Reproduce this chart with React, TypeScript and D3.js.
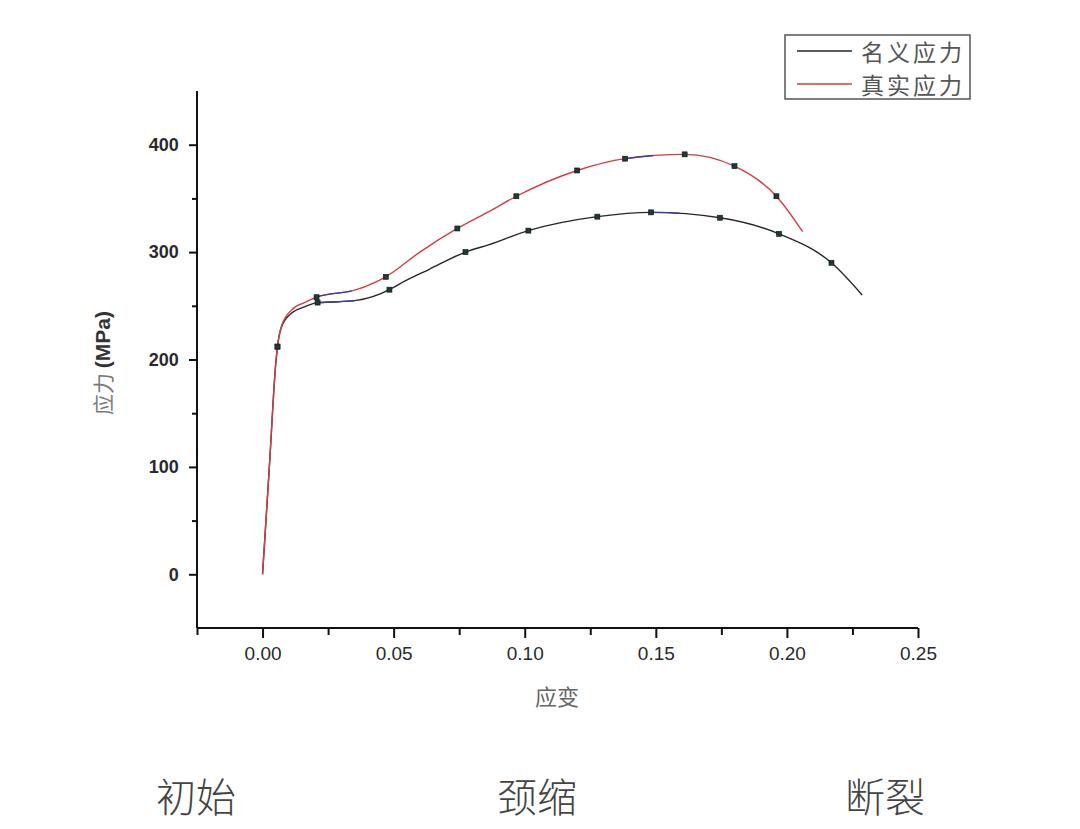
import * as d3 from "d3";
import { useEffect, useRef } from "react";

// nominal stress curve (名义应力)
const nominalStrain = [0, 0.0026, 0.005, 0.0057, 0.0072, 0.011, 0.016, 0.021, 0.0267, 0.0358, 0.0484, 0.052, 0.0636, 0.0774, 0.0865, 0.1014, 0.1277, 0.1482, 0.1745, 0.197, 0.217, 0.2287];
const nominalStress = [0, 100, 195, 212, 230, 243, 249, 253, 253.5, 255, 265, 270, 284, 300, 307, 320, 333, 337, 332, 317, 290, 260];
const nominalMarkIdx = [3, 7, 10, 13, 15, 16, 17, 18, 19, 20];
const nominalBlue = [[0.021, 0.036], [0.149, 0.159]];

// true stress curve (真实应力)
const trueStrain = [0, 0.0026, 0.005, 0.0057, 0.0072, 0.011, 0.016, 0.0206, 0.0358, 0.047, 0.06, 0.0743, 0.0865, 0.0968, 0.12, 0.1383, 0.161, 0.18, 0.196, 0.206];
const trueStress = [0, 100, 195, 212, 231, 246, 253, 258, 265, 277, 300, 322, 338, 352, 376, 387, 391, 380, 352, 319];
const trueMarkIdx = [3, 7, 9, 11, 13, 14, 15, 16, 17, 18];
const trueBlue = [[0.0206, 0.034], [0.139, 0.149]];

const xMajor = [0, 0.05, 0.1, 0.15, 0.2, 0.25];
const xMinor = [-0.025, 0.025, 0.075, 0.125, 0.175, 0.225];
const yMajor = [0, 100, 200, 300, 400];
const yMinor = [50, 150, 250, 350];

const legendLabels = ["名义应力", "真实应力"];
const stageLabels = ["初始", "颈缩", "断裂"];

const W = 1080;
const H = 829;
const cjk = "'Noto Sans CJK SC', sans-serif";
const latin = "Arial, 'Liberation Sans', sans-serif";

export default function App() {
  const svgRef = useRef<SVGSVGElement>(null);

  useEffect(() => {
    const svg = d3.select(svgRef.current);
    svg.selectAll("*").remove();

    const x = d3.scaleLinear().domain([-0.025, 0.25]).range([197, 918]);
    const y = d3.scaleLinear().domain([-50, 450]).range([628, 91]);

    // axes
    const gx = svg.append("g").attr("transform", `translate(0,${y(-50)})`);
    gx.call(d3.axisBottom(x).tickValues(xMajor).tickSize(10).tickSizeOuter(0).tickFormat(d3.format(".2f")));
    gx.append("g").call(d3.axisBottom(x).tickValues(xMinor).tickSize(7).tickFormat(() => "")).select(".domain").remove();
    gx.selectAll("text").attr("font-size", 19).attr("font-family", latin).attr("fill", "#2a2a2a").attr("dy", "1.0em");

    const gy = svg.append("g").attr("transform", `translate(${x(-0.025)},0)`);
    gy.call(d3.axisLeft(y).tickValues(yMajor).tickSize(8).tickSizeOuter(0).tickFormat(d3.format("d")));
    gy.append("g").call(d3.axisLeft(y).tickValues(yMinor).tickSize(5).tickFormat(() => "")).select(".domain").remove();
    gy.selectAll("text").attr("font-size", 18).attr("font-family", latin).attr("font-weight", "bold").attr("fill", "#2a2a2a").attr("dx", "-0.4em");

    svg.selectAll(".domain").attr("stroke", "#111").attr("stroke-width", 2);
    svg.selectAll(".tick line").attr("stroke", "#111").attr("stroke-width", 2);
    gx.select(".domain").attr("d", `M${x(-0.025)},0H${x(0.25)}`);
    gy.select(".domain").attr("d", `M0,${y(-50)}V${y(450)}`);

    // axis titles
    const yl = svg.append("text")
      .attr("transform", `translate(102,363) rotate(-90)`)
      .attr("text-anchor", "middle")
      .attr("dominant-baseline", "central")
      .attr("font-size", 21);
    yl.append("tspan").attr("font-family", cjk).attr("fill", "#7a7a7a").text("应力 ");
    yl.append("tspan").attr("font-family", latin).attr("font-weight", "bold").attr("fill", "#333").text("(MPa)");

    svg.append("text")
      .attr("x", 557).attr("y", 695)
      .attr("text-anchor", "middle").attr("dominant-baseline", "central")
      .attr("font-family", cjk).attr("font-size", 22).attr("fill", "#666")
      .text("应变");

    const series = [
      { strain: nominalStrain, stress: nominalStress, color: "#262626", marks: nominalMarkIdx, blue: nominalBlue },
      { strain: trueStrain, stress: trueStress, color: "#d23c46", marks: trueMarkIdx, blue: trueBlue },
    ];

    const defs = svg.append("defs");
    series.forEach((s, si) => {
      const pts: [number, number][] = s.strain.map((v, i) => [x(v), y(s.stress[i])]);
      const path = d3.line().curve(d3.curveMonotoneX)(pts)!;
      svg.append("path").attr("d", path).attr("fill", "none").attr("stroke", s.color).attr("stroke-width", 1.4);
      // short bluish stretches seen on the original traces
      s.blue.forEach((r, bi) => {
        const id = `clip-${si}-${bi}`;
        defs.append("clipPath").attr("id", id).append("rect")
          .attr("x", x(r[0])).attr("y", 0).attr("width", x(r[1]) - x(r[0])).attr("height", H);
        svg.append("path").attr("d", path).attr("fill", "none").attr("stroke", "#3a3aa8")
          .attr("stroke-width", 1.4).attr("clip-path", `url(#${id})`);
      });
    });

    // markers
    series.forEach((s) => {
      svg.append("g").selectAll("rect").data(s.marks).join("rect")
        .attr("x", (i) => x(s.strain[i]) - 2.5)
        .attr("y", (i) => y(s.stress[i]) - 2.5)
        .attr("width", 5).attr("height", 5)
        .attr("fill", "#1f3a36").attr("stroke", "#111").attr("stroke-width", 0.6);
    });

    // legend
    const lg = svg.append("g");
    lg.append("rect").attr("x", 785).attr("y", 35).attr("width", 185).attr("height", 64)
      .attr("fill", "#fff").attr("stroke", "#555").attr("stroke-width", 1.5);
    legendLabels.forEach((lab, i) => {
      const cy = 51 + i * 33;
      lg.append("line").attr("x1", 797).attr("x2", 852).attr("y1", cy).attr("y2", cy)
        .attr("stroke", series[i].color).attr("stroke-width", 1.5);
      lg.append("text").attr("x", 861).attr("y", cy).attr("dominant-baseline", "central")
        .attr("font-family", cjk).attr("font-size", 23).attr("letter-spacing", 3)
        .attr("fill", "#555").text(lab);
    });

    // stage labels under the chart
    const stageX = [196, 537, 885];
    stageLabels.forEach((lab, i) => {
      svg.append("text").attr("x", stageX[i]).attr("y", 795)
        .attr("text-anchor", "middle").attr("dominant-baseline", "central")
        .attr("font-family", cjk).attr("font-size", 40).attr("font-weight", 300)
        .attr("fill", "#444").text(lab);
    });
  }, []);

  return (
    <svg
      ref={svgRef}
      width={W}
      height={H}
      viewBox={`0 0 ${W} ${H}`}
      style={{ position: "absolute", left: 0, top: 0, background: "#fff" }}
    />
  );
}
